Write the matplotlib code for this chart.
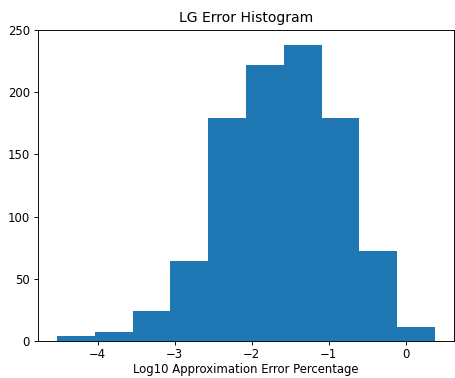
import numpy as np
import matplotlib
matplotlib.use("Agg")
import matplotlib.pyplot as plt

counts = [4, 7, 24, 64, 179, 222, 238, 179, 72, 11]
bin_start = -4.531
bin_end = 0.384
title = "LG Error Histogram"
xlabel = "Log10 Approximation Error Percentage"

edges = np.linspace(bin_start, bin_end, len(counts) + 1)

DPI = 84
fig = plt.figure(figsize=(455/DPI, 378/DPI), dpi=DPI)
ax = fig.add_axes([38/455, 37/378, (454-38)/455, (341-30)/378])
ax.hist(edges[:-1], bins=edges, weights=counts, color="#1f77b4")
ax.set_xlim(-4.777, 0.63)
ax.set_ylim(0, 250)
ax.set_xticks([-4, -3, -2, -1, 0])
ax.tick_params(axis="x", pad=2.5)
ax.set_title(title, pad=7)
ax.set_xlabel(xlabel, labelpad=1.5)
fig.savefig("out.png", dpi=DPI)
